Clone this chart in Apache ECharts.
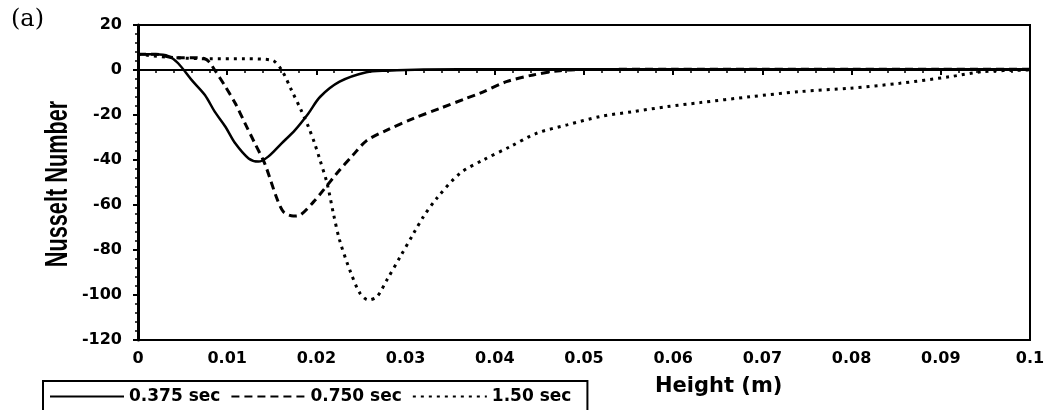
<!DOCTYPE html>
<html lang="en">
<head>
    <meta charset="UTF-8">
    <title>Nusselt Number vs Height</title>
    <script src="https://cdn.jsdelivr.net/npm/echarts/dist/echarts.min.js"></script>
    <style>
        html, body { margin: 0; padding: 0; background: #fff; }
        #chart { width: 1049px; height: 410px; }
    </style>
</head>
<body>
    <div id="chart"></div>
    <script>
        // values
        var seriesNames = ['0.375 sec', '0.750 sec', '1.50 sec'];

        var heightA = [0, 0.002, 0.0034, 0.0045, 0.006, 0.0075, 0.0086, 0.0098, 0.0109, 0.0124, 0.0135, 0.0146, 0.0161, 0.0176, 0.0191, 0.0204, 0.0226, 0.0256, 0.0279, 0.032, 0.04, 0.05, 0.06, 0.07, 0.08, 0.09, 0.1];
        var nusseltA = [7, 7, 6.2, 3.0, -4.4, -11.1, -18.5, -25.2, -32.6, -39.3, -40.7, -38.5, -32.6, -26.7, -19.3, -12, -5.2, -1.0, -0.3, 0.2, 0.3, 0.3, 0.3, 0.3, 0.3, 0.3, 0.3];

        var heightB = [0, 0.002, 0.004, 0.006, 0.0075, 0.008, 0.0086, 0.0098, 0.0109, 0.012, 0.0131, 0.0142, 0.0155, 0.0163, 0.0174, 0.0182, 0.0197, 0.0208, 0.0223, 0.0241, 0.0256, 0.0279, 0.0309, 0.0339, 0.0368, 0.0383, 0.0413, 0.0443, 0.0473, 0.05, 0.06, 0.07, 0.08, 0.09, 0.1];
        var nusseltB = [7, 7, 5.5, 5.5, 5.0, 3.5, 0, -7.4, -14.8, -23.7, -32.6, -41.5, -56.3, -63, -64.9, -64.4, -58.5, -53.3, -45.9, -37.8, -31.5, -26.7, -21.5, -17, -12.6, -10.4, -5.2, -2.2, -0.3, 0.2, 0.3, 0.3, 0.3, 0.3, 0.3];

        var heightC = [0, 0.004, 0.008, 0.012, 0.015, 0.0161, 0.0172, 0.0183, 0.0191, 0.0198, 0.0204, 0.0212, 0.0219, 0.0226, 0.0238, 0.0249, 0.0258, 0.0268, 0.0279, 0.0294, 0.0309, 0.032, 0.0335, 0.0361, 0.0387, 0.0417, 0.0447, 0.0481, 0.0518, 0.0555, 0.0593, 0.063, 0.0686, 0.0742, 0.0798, 0.0854, 0.091, 0.0948, 0.1];
        var nusseltC = [7, 5.5, 5, 5, 4.4, 0, -8.9, -18, -25.2, -32.6, -40, -50.4, -63.7, -75.6, -89.5, -99.3, -102.2, -100.7, -93.3, -83, -72.6, -65.2, -57, -45.9, -40, -34.1, -28.1, -24.4, -20.7, -18.5, -16.3, -14.5, -11.9, -9.6, -8.1, -5.9, -3.0, -0.7, 0];

        var xTicks = [0, 0.01, 0.02, 0.03, 0.04, 0.05, 0.06, 0.07, 0.08, 0.09, 0.1];
        var yTicks = [20, 0, -20, -40, -60, -80, -100, -120];

        function zip(xs, ys) {
            return xs.map(function (x, i) { return [x, ys[i]]; });
        }

        var chart = echarts.init(document.getElementById('chart'));

        var labelFont = {
            color: '#000',
            fontFamily: 'DejaVu Sans',
            fontWeight: 'bold',
            fontSize: 16
        };

        var option = {
            animation: false,
            backgroundColor: '#fff',
            grid: {
                left: 138, top: 25, right: 19, bottom: 70,
                show: true, borderColor: '#000', borderWidth: 2
            },
            graphic: [
                {
                    type: 'text', left: 11, top: 8,
                    style: { text: '(a)', font: '24px "DejaVu Serif"', fill: '#000' }
                },
                {
                    type: 'text', left: 655, top: 376,
                    style: { text: 'Height (m)', font: 'bold 21px "DejaVu Sans"', fill: '#000' }
                },
                {
                    // y axis title, narrow and tall like the original
                    type: 'text', x: 58, y: 184, rotation: Math.PI / 2, scaleX: 0.7,
                    style: {
                        text: 'Nusselt Number', font: 'bold 31px "Liberation Sans"', fill: '#000',
                        textAlign: 'center', textVerticalAlign: 'middle'
                    }
                }
            ],
            legend: {
                data: seriesNames,
                left: 43, top: 381,
                orient: 'horizontal',
                itemWidth: 74, itemHeight: 14, itemGap: 10,
                padding: [7, 16, 30, 6],
                borderColor: '#000', borderWidth: 2,
                itemStyle: { opacity: 0 },
                textStyle: {
                    color: '#000', fontFamily: 'DejaVu Sans', fontWeight: 'bold', fontSize: 17
                }
            },
            xAxis: {
                type: 'value',
                min: xTicks[0], max: xTicks[xTicks.length - 1], interval: 0.01,
                axisLine: { lineStyle: { color: '#000', width: 2 } },
                axisTick: { length: 5, lineStyle: { color: '#000', width: 2 } },
                minorTick: { show: true, splitNumber: 5, length: 3, lineStyle: { color: '#000', width: 1.5 } },
                splitLine: { show: false },
                axisLabel: Object.assign({
                    margin: 11,
                    formatter: function (v) { return String(+v.toFixed(2)); }
                }, labelFont)
            },
            yAxis: {
                type: 'value',
                min: yTicks[yTicks.length - 1], max: yTicks[0], interval: 20,
                axisLine: { lineStyle: { color: '#000', width: 3 } },
                axisTick: { length: 5, lineStyle: { color: '#000', width: 2 } },
                minorTick: { show: true, splitNumber: 5, length: 3, lineStyle: { color: '#000', width: 1.5 } },
                splitLine: { show: false },
                axisLabel: Object.assign({ margin: 16 }, labelFont)
            },
            series: [
                {
                    name: seriesNames[0], type: 'line', symbol: 'none', smooth: 0.3,
                    data: zip(heightA, nusseltA),
                    lineStyle: { color: '#000', width: 2.5, type: 'solid' },
                    itemStyle: { color: '#000' }
                },
                {
                    name: seriesNames[1], type: 'line', symbol: 'none', smooth: 0.3,
                    data: zip(heightB, nusseltB),
                    lineStyle: { color: '#000', width: 3, type: [8, 5] },
                    itemStyle: { color: '#000' }
                },
                {
                    name: seriesNames[2], type: 'line', symbol: 'none', smooth: 0.3,
                    data: zip(heightC, nusseltC),
                    lineStyle: { color: '#000', width: 3, type: [3, 5] },
                    itemStyle: { color: '#000' }
                }
            ]
        };

        chart.setOption(option);
    </script>
</body>
</html>
